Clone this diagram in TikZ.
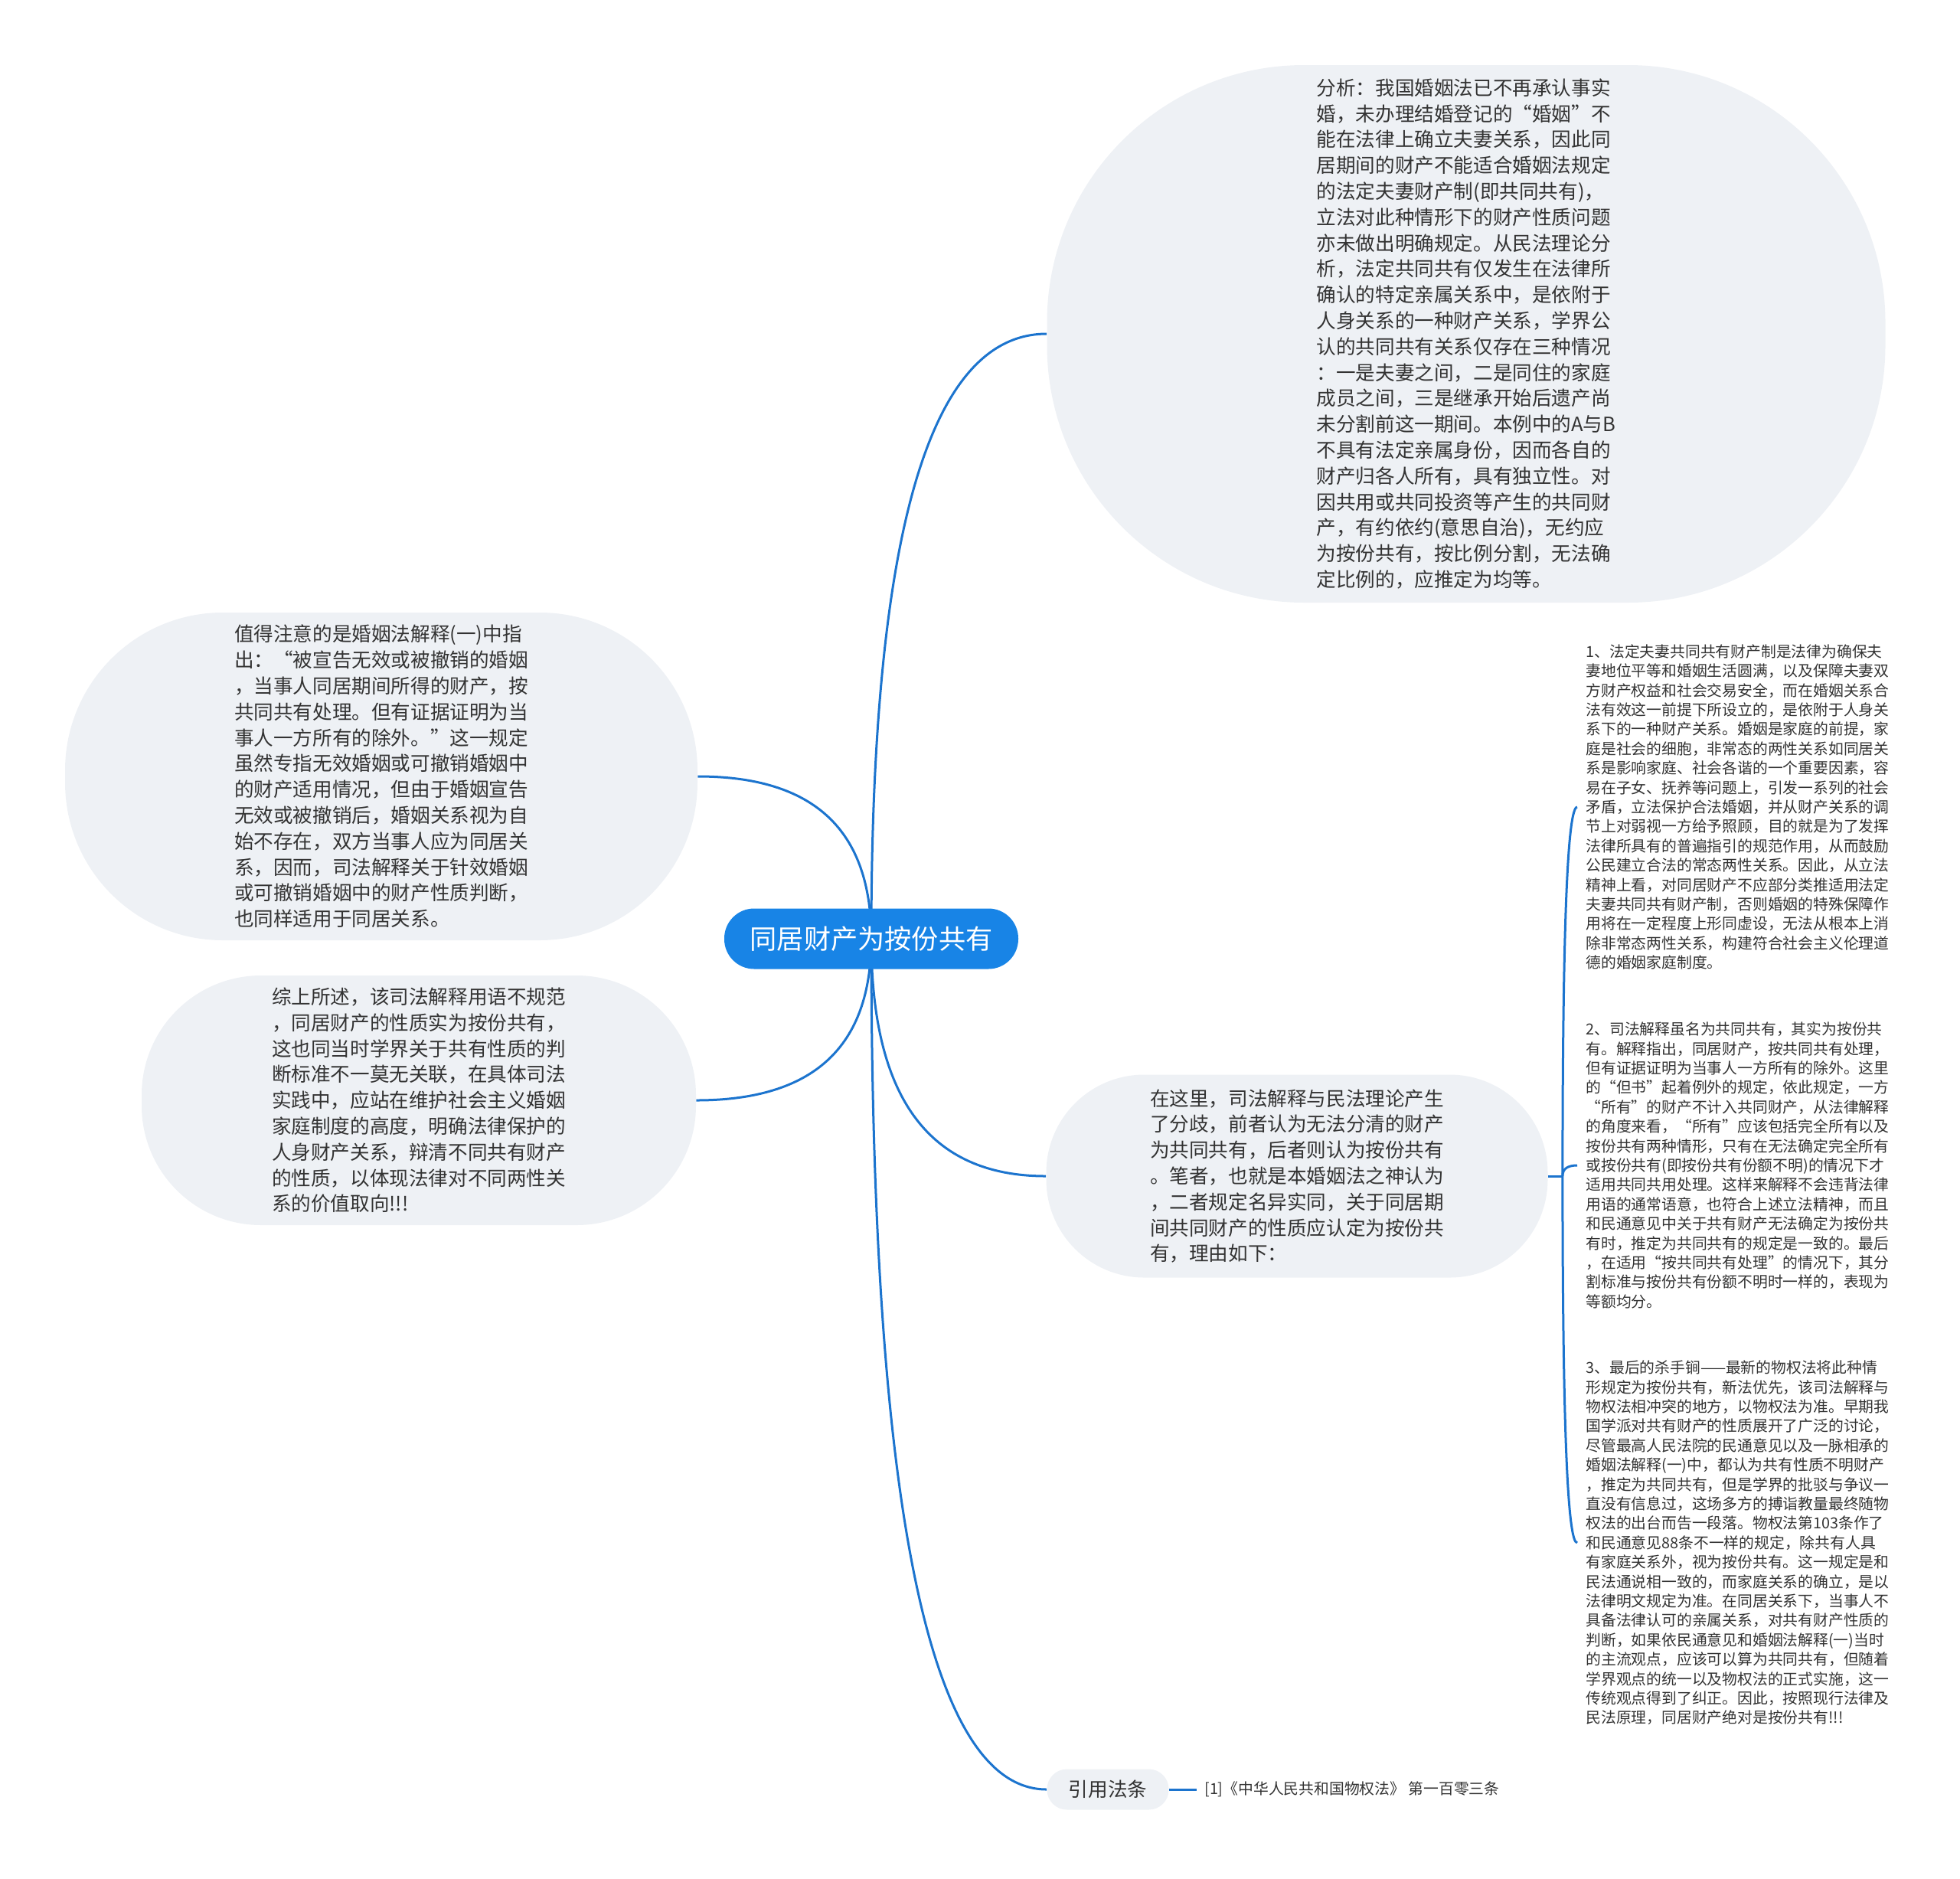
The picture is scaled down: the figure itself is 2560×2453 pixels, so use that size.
\documentclass[tikz,border=0pt]{standalone}
\usepackage{fontspec}
\setmainfont{Noto Sans CJK SC}
\usepackage{tikz}
\usetikzlibrary{positioning, calc, backgrounds}
\definecolor{rootblue}{RGB}{24, 132, 230}
\definecolor{linkblue}{RGB}{28, 116, 206}
\definecolor{bubblegrey}{RGB}{238, 241, 245}
\definecolor{inkgrey}{RGB}{51, 51, 51}

\begin{document}
\begin{tikzpicture}[
    x=0.5pt, y=-0.5pt,
    topic/.style={fill=rootblue, text=white, rounded corners=19.5pt,
                  minimum width=192pt, minimum height=39.5pt, inner sep=0pt,
                  font=\fontsize{17.6}{21}\selectfont},
    bubble/.style={fill=bubblegrey, text=inkgrey, align=left, inner sep=0pt,
                   font=\fontsize{12.8}{16.9}\selectfont},
    leaf/.style={anchor=west, text=inkgrey, align=left, inner xsep=5.5pt,
                 inner ysep=0pt, font=\fontsize{9.9}{12.7}\selectfont},
    branch/.style={draw=linkblue, line width=1.5pt},
]
    \useasboundingbox (0,0) rectangle (2560,2453);

    \node[topic] (root) at (1138,1226) {同居财产为按份共有};

    \node[bubble, minimum width=547.5pt, minimum height=351pt,
          rounded corners=168pt] (tr) at (1915,436)
        {分析：我国婚姻法已不再承认事实\\婚，未办理结婚登记的“婚姻”不\\
         能在法律上确立夫妻关系，因此同\\居期间的财产不能适合婚姻法规定\\
         的法定夫妻财产制(即共同共有)，\\立法对此种情形下的财产性质问题\\
         亦未做出明确规定。从民法理论分\\析，法定共同共有仅发生在法律所\\
         确认的特定亲属关系中，是依附于\\人身关系的一种财产关系，学界公\\
         认的共同共有关系仅存在三种情况\\：一是夫妻之间，二是同住的家庭\\
         成员之间，三是继承开始后遗产尚\\未分割前这一期间。本例中的A与B\\
         不具有法定亲属身份，因而各自的\\财产归各人所有，具有独立性。对\\
         因共用或共同投资等产生的共同财\\产，有约依约(意思自治)，无约应\\
         为按份共有，按比例分割，无法确\\定比例的，应推定为均等。};

    \node[bubble, minimum width=413pt, minimum height=214pt,
          rounded corners=103pt] (lt) at (498,1014)
        {值得注意的是婚姻法解释(一)中指\\出：“被宣告无效或被撤销的婚姻\\
         ，当事人同居期间所得的财产，按\\共同共有处理。但有证据证明为当\\
         事人一方所有的除外。”这一规定\\虽然专指无效婚姻或可撤销婚姻中\\
         的财产适用情况，但由于婚姻宣告\\无效或被撤销后，婚姻关系视为自\\
         始不存在，双方当事人应为同居关\\系，因而，司法解释关于针效婚姻\\
         或可撤销婚姻中的财产性质判断，\\也同样适用于同居关系。};

    \node[bubble, minimum width=362pt, minimum height=163pt,
          rounded corners=78pt] (lb) at (547,1437)
        {综上所述，该司法解释用语不规范\\，同居财产的性质实为按份共有，\\
         这也同当时学界关于共有性质的判\\断标准不一莫无关联，在具体司法\\
         实践中，应站在维护社会主义婚姻\\家庭制度的高度，明确法律保护的\\
         人身财产关系，辩清不同共有财产\\的性质，以体现法律对不同两性关\\
         系的价值取向!!!};

    \node[bubble, minimum width=327.5pt, minimum height=132.5pt,
          rounded corners=64pt] (rm) at (1694,1536)
        {在这里，司法解释与民法理论产生\\了分歧，前者认为无法分清的财产\\
         为共同共有，后者则认为按份共有\\。笔者，也就是本婚姻法之神认为\\
         ，二者规定名异实同，关于同居期\\间共同财产的性质应认定为按份共\\
         有，理由如下：};

    \coordinate[right=9.5pt of rm.east] (hub);

    \node[leaf] (leafa) at (2060,1054)
        {1、法定夫妻共同共有财产制是法律为确保夫\\妻地位平等和婚姻生活圆满，以及保障夫妻双\\
         方财产权益和社会交易安全，而在婚姻关系合\\法有效这一前提下所设立的，是依附于人身关\\
         系下的一种财产关系。婚姻是家庭的前提，家\\庭是社会的细胞，非常态的两性关系如同居关\\
         系是影响家庭、社会各谐的一个重要因素，容\\易在子女、抚养等问题上，引发一系列的社会\\
         矛盾，立法保护合法婚姻，并从财产关系的调\\节上对弱视一方给予照顾，目的就是为了发挥\\
         法律所具有的普遍指引的规范作用，从而鼓励\\公民建立合法的常态两性关系。因此，从立法\\
         精神上看，对同居财产不应部分类推适用法定\\夫妻共同共有财产制，否则婚姻的特殊保障作\\
         用将在一定程度上形同虚设，无法从根本上消\\除非常态两性关系，构建符合社会主义伦理道\\
         德的婚姻家庭制度。};

    \node[leaf] (leafb) at (2060,1522)
        {2、司法解释虽名为共同共有，其实为按份共\\有。解释指出，同居财产，按共同共有处理，\\
         但有证据证明为当事人一方所有的除外。这里\\的“但书”起着例外的规定，依此规定，一方\\
         “所有”的财产不计入共同财产，从法律解释\\的角度来看，“所有”应该包括完全所有以及\\
         按份共有两种情形，只有在无法确定完全所有\\或按份共有(即按份共有份额不明)的情况下才\\
         适用共同共用处理。这样来解释不会违背法律\\用语的通常语意，也符合上述立法精神，而且\\
         和民通意见中关于共有财产无法确定为按份共\\有时，推定为共同共有的规定是一致的。最后\\
         ，在适用“按共同共有处理”的情况下，其分\\割标准与按份共有份额不明时一样的，表现为\\
         等额均分。};

    \node[leaf] (leafc) at (2060,2015)
        {3、最后的杀手锏——最新的物权法将此种情\\形规定为按份共有，新法优先，该司法解释与\\
         物权法相冲突的地方，以物权法为准。早期我\\国学派对共有财产的性质展开了广泛的讨论，\\
         尽管最高人民法院的民通意见以及一脉相承的\\婚姻法解释(一)中，都认为共有性质不明财产\\
         ，推定为共同共有，但是学界的批驳与争议一\\直没有信息过，这场多方的搏诣教量最终随物\\
         权法的出台而告一段落。物权法第103条作了\\和民通意见88条不一样的规定，除共有人具\\
         有家庭关系外，视为按份共有。这一规定是和\\民法通说相一致的，而家庭关系的确立，是以\\
         法律明文规定为准。在同居关系下，当事人不\\具备法律认可的亲属关系，对共有财产性质的\\
         判断，如果依民通意见和婚姻法解释(一)当时\\的主流观点，应该可以算为共同共有，但随着\\
         学界观点的统一以及物权法的正式实施，这一\\传统观点得到了纠正。因此，按照现行法律及\\
         民法原理，同居财产绝对是按份共有!!!};

    \node[bubble, minimum width=79.5pt, minimum height=26.5pt,
          rounded corners=13pt] (cite) at (1447,2337) {引用法条};
    \node[leaf, right=18pt of cite, anchor=west, inner xsep=5pt] (ref)
        {[1]《中华人民共和国物权法》 第一百零三条};

    \begin{scope}[on background layer]
        \foreach \kid/\side in {tr/west, lt/east, lb/east, rm/west, cite/west}
            \draw[branch] (root.center)
                .. controls ($(root.center)!0.67!(root.center|-\kid.\side)$)
                and ($(\kid.\side)!0.67!(root.center|-\kid.\side)$) .. (\kid.\side);
        \draw[branch] (rm.east) -- (hub);
        \foreach \kid in {leafa, leafb, leafc}
            \draw[branch] (hub)
                .. controls ($(hub)!0.67!(hub|-\kid.west)$)
                and ($(\kid.west)!0.67!(hub|-\kid.west)$) .. (\kid.west);
        \draw[branch] (cite) -- (ref);
    \end{scope}
\end{tikzpicture}
\end{document}
